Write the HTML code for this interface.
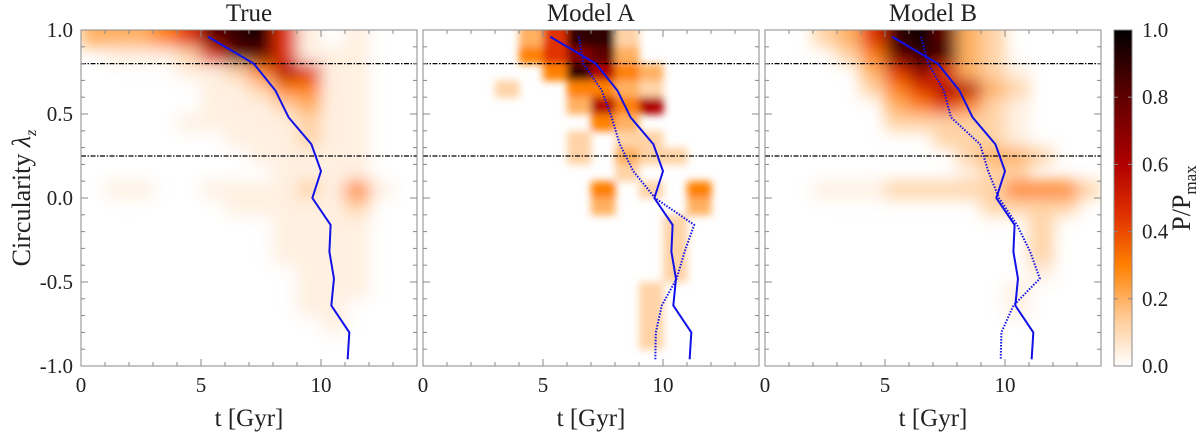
<!DOCTYPE html>
<html><head><meta charset="utf-8"><style>
body{margin:0;background:#fff;}
svg text, svg tspan{font-family:"Liberation Serif","DejaVu Serif",serif !important;}
</style></head><body>
<svg id="chart" width="1200" height="434" xmlns="http://www.w3.org/2000/svg" font-family="'Liberation Serif','DejaVu Serif',serif">
<defs>
<filter id="blurS" x="-10%" y="-10%" width="120%" height="120%"><feGaussianBlur stdDeviation="8"/></filter>
<filter id="blurA" x="-10%" y="-10%" width="120%" height="120%"><feGaussianBlur stdDeviation="4"/></filter>
<linearGradient id="cbar" x1="0" y1="1" x2="0" y2="0">
<stop offset="0" stop-color="#ffffff"/><stop offset="0.15" stop-color="#ffc890"/><stop offset="0.3" stop-color="#ff8000"/><stop offset="0.45" stop-color="#e03000"/><stop offset="0.6" stop-color="#b00000"/><stop offset="0.8" stop-color="#600000"/><stop offset="1" stop-color="#000000"/>
</linearGradient>
</defs>
</svg>
<script>
// ---- data ----
const tBins = [0,1,2,3,4,5,6,7,8,9,10,11,12,13];
const lamBins = [0.9,0.8,0.7,0.6,0.5,0.4,0.3,0.2,0.1,0.0,-0.1,-0.2,-0.3,-0.4,-0.5,-0.6,-0.7,-0.8,-0.9,-1.0];
// digit -> P/Pmax level
const levels = [0,0.04,0.12,0.2,0.3,0.45,0.6,0.7,0.8,0.9,1.0];
const heatTrue = [
"3334589a510100","01112588511100","00001124651100","00000112441100","00000111231100",
"00001111121100","00000011121100","00000001111100","00000000111100","01100111121410",
"00000011111200","00000000111100","00000000111100","00000000111100","00000000011100",
"00000000011100","00000000011000","00000000001000","00000000000000","00000000000000"];
const heatA = [
"00003599200000","00004578300000","00000496430000","00020044320000","00000036460000",
"00000004300000","00000020220000","00000020322000","00000000200000","00000004020400",
"00000003000300","00000000002000","00000000002000","00000000002000","00000000002000",
"00000000020000","00000000020000","00000000020000","00000000020000","00000000000000"];
const heatB = [
"002359a8320000","00024899320000","00003575321000","00002456632000","00000345421000",
"00000222221000","00000002221000","00000000233200","00000000122000","00111222224442",
"00000000022220","00000000000200","00000000000200","00000000000200","00000000000100",
"00000000001000","00000000001000","00000000000000","00000000000000","00000000000000"];
const lamPts = [0.96,0.80,0.64,0.48,0.32,0.16,0.0,-0.16,-0.32,-0.48,-0.64,-0.80,-0.96];
const trueT = [5.3,7.2,8.1,8.65,9.6,10.0,9.64,10.4,10.35,10.54,10.43,11.18,11.11];
const modelAT = [6.49,6.68,7.45,7.86,8.2,8.76,9.67,11.3,10.9,10.57,9.95,9.7,9.68];
const modelBT = [6.5,6.8,7.45,7.75,8.96,9.3,9.75,10.5,11.05,11.45,10.35,9.85,9.82];
const refLines = [0.8,0.25];
const xTicks = [0,5,10];
const yTicks = [1.0,0.5,0.0,-0.5,-1.0];
const cbTicks = [0.0,0.2,0.4,0.6,0.8,1.0];

// ---- layout ----
const NS="http://www.w3.org/2000/svg";
const FONT="'Liberation Serif','DejaVu Serif',serif";
const svg=document.getElementById('chart');
const panels=[{x0:81,title:'True',heat:heatTrue,model:null,blur:'blurS',name:'true'},
{x0:423,title:'Model A',heat:heatA,model:modelAT,blur:'blurA',name:'model-a'},
{x0:765,title:'Model B',heat:heatB,model:modelBT,blur:'blurS',name:'model-b'}];
const W=336,yTop=30,yBot=366,TMAX=14;
function el(tag,attrs,parent){const e=document.createElementNS(NS,tag);for(const k in attrs)e.setAttribute(k,attrs[k]);if(tag==='text'){e.setAttribute('font-family',FONT);e.setAttribute('fill','#222');}(parent||svg).appendChild(e);return e;}
function yS(l){return yTop+(1-l)/2*(yBot-yTop);}
const cstops=[[0,[255,255,255]],[0.15,[255,200,144]],[0.3,[255,128,0]],[0.45,[224,48,0]],[0.6,[176,0,0]],[0.8,[96,0,0]],[1,[0,0,0]]];
function cmap(v){for(let i=1;i<cstops.length;i++){if(v<=cstops[i][0]){const a=cstops[i-1],b=cstops[i],f=(v-a[0])/(b[0]-a[0]);return 'rgb('+a[1].map((c,j)=>Math.round(c+(b[1][j]-c)*f)).join(',')+')';}}return '#000';}

panels.forEach((p,pi)=>{
  const xS=t=>p.x0+t/TMAX*W;
  const g=el('g',{});
  
  
  const cid='clip'+pi;
  const cp=el('clipPath',{id:cid},g);el('rect',{x:p.x0,y:yTop,width:W,height:yBot-yTop},cp);
  const hg=el('g',{'clip-path':'url(#'+cid+')'},g);
  const hb=el('g',{filter:'url(#'+p.blur+')'},hg);
  
  
  p.heat.forEach((row,ri)=>{
    tBins.forEach((t,ci)=>{
      const ch=row[ci]||'0';const v=levels[ch==='a'?10:parseInt(ch)];
      if(!(v>0))return;
      const l=lamBins[ri];
      let y1=yS(l+0.1),y2=yS(l)+0.5;
      if(ri===0)y1-=25; if(ri===lamBins.length-1)y2+=25;
      const r=el('rect',{x:xS(t),y:y1,width:xS(t+1)-xS(t)+0.5,height:y2-y1,fill:cmap(v)},hb);
      
      
    });
  });
  refLines.forEach(l=>{const ln=el('line',{x1:p.x0,x2:p.x0+W,y1:yS(l),y2:yS(l),stroke:'#000','stroke-width':1.3,'stroke-dasharray':'5,1.5,1.5,1.5'},g);
    
    });
  const tl=el('polyline',{points:trueT.map((t,i)=>xS(t)+','+yS(lamPts[i])).join(' '),fill:'none',stroke:'#1010e8','stroke-width':2},g);
  
  
  if(p.model){const ml=el('polyline',{points:p.model.map((t,i)=>xS(t)+','+yS(lamPts[i])).join(' '),fill:'none',stroke:'#1010e8','stroke-width':2,'stroke-dasharray':'1.5,1.5'},g);
    
    }
  el('rect',{x:p.x0,y:yTop,width:W,height:yBot-yTop,fill:'none',stroke:'#888','stroke-width':1},g);
  for(let t=0;t<=TMAX;t++){const L=t%5===0?7:4;
    el('line',{x1:xS(t),x2:xS(t),y1:yBot,y2:yBot-L,stroke:'#888'},g);el('line',{x1:xS(t),x2:xS(t),y1:yTop,y2:yTop+L,stroke:'#888'},g);}
  for(let k=-10;k<=10;k++){const l=k/10,L=k%5===0?7:4;
    el('line',{x1:p.x0,x2:p.x0+L,y1:yS(l),y2:yS(l),stroke:'#888'},g);el('line',{x1:p.x0+W,x2:p.x0+W-L,y1:yS(l),y2:yS(l),stroke:'#888'},g);}
  xTicks.forEach(t=>{const tx=el('text',{x:xS(t),y:392,'font-size':21,'text-anchor':'middle'},g);tx.textContent=t;
    });
  const xl=el('text',{x:p.x0+W/2,y:426,'font-size':25,'text-anchor':'middle'},g);xl.textContent='t [Gyr]';
  
  const tt=el('text',{x:p.x0+W/2,y:21,'font-size':25,'text-anchor':'middle'},g);tt.textContent=p.title;
  
  if(pi===0){
    yTicks.forEach(l=>{const ty=el('text',{x:73,y:yS(l)+7,'font-size':21,'text-anchor':'end'},g);ty.textContent=l.toFixed(1);
      });
  }
});
const yt=el('text',{x:0,y:0,'font-size':26,'text-anchor':'middle',transform:'translate(30,198) rotate(-90)'});
yt.innerHTML='Circularity <tspan font-style="italic">λ</tspan><tspan font-size="16" dy="6" font-style="italic">z</tspan>';


const cb=el('rect',{x:1114,y:yTop,width:18,height:yBot-yTop,fill:'url(#cbar)',stroke:'#888'});


cbTicks.forEach(v=>{const y=yBot-v*(yBot-yTop);
  el('line',{x1:1114,x2:1118,y1:y,y2:y,stroke:'#888'});el('line',{x1:1132,x2:1128,y1:y,y2:y,stroke:'#888'});
  const t=el('text',{x:1142,y:y+7,'font-size':21},svg);t.textContent=v.toFixed(1);
  });
const cl=el('text',{x:0,y:0,'font-size':26,'text-anchor':'middle',transform:'translate(1190,198) rotate(-90)'});
cl.innerHTML='P/P<tspan font-size="17" dy="6">max</tspan>';


</script>
</body></html>
